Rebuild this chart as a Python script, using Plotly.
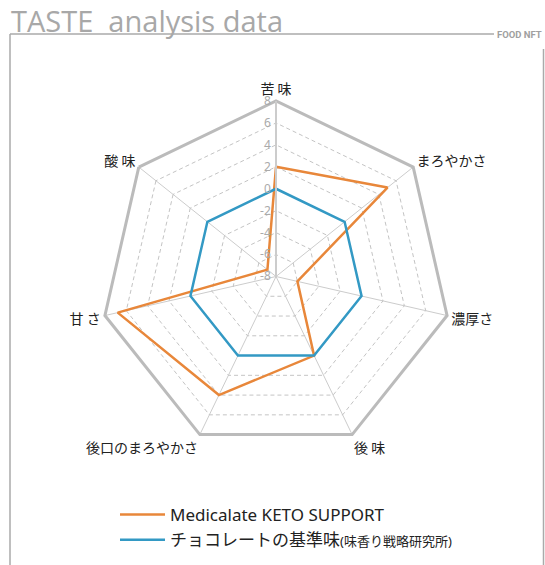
import plotly.graph_objects as go

W, H = 545, 565

categories = ["苦 味", "まろやかさ", "濃厚さ", "後 味", "後口のまろやかさ", "甘 さ", "酸 味"]
keto_values = [2, 5, -6, 0, 4, 6.8, -7]
base_values = [0, 0, 0, 0, 0, 0, 0]
series_names = ["Medicalate KETO SUPPORT",
                "<span style='font-size:17px'>チョコレートの基準味</span>"
                "<span style='font-size:13px'>(味香り戦略研究所)</span>"]
radial_ticks = [-8, -6, -4, -2, 0, 2, 4, 6, 8]

ORANGE = "#E8873A"
BLUE = "#3399C4"
GRAY = "#BBBBBB"

fig = go.Figure()
for name, vals, col in [(series_names[0], keto_values, ORANGE),
                        (series_names[1], base_values, BLUE)]:
    fig.add_trace(go.Scatterpolar(
        r=vals + vals[:1], theta=categories + categories[:1],
        mode="lines", name=name, line=dict(color=col, width=2.5)))

cx, cy, R = 276.0, 276.5, 175.5
fig.update_layout(
    width=W, height=H,
    margin=dict(l=0, r=0, t=0, b=0),
    paper_bgcolor="white",
    font=dict(family="Noto Sans CJK JP", color="#222"),
    polar=dict(
        domain=dict(x=[(cx - R) / W, (cx + R) / W],
                    y=[(H - cy - R) / H, (H - cy + R) / H]),
        gridshape="linear",
        bgcolor="white",
        radialaxis=dict(range=[-8, 8], tickvals=radial_ticks,
                        ticktext=[str(v) for v in radial_ticks], angle=90,
                        showline=True, linecolor="#CCCCCC", linewidth=2,
                        gridcolor="#C4C4C4", griddash="4px,3px", gridwidth=1,
                        showticklabels=True, ticks="", tickangle=90,
                        side="counterclockwise",
                        tickfont=dict(size=12, color="#AAAAAA", family="Noto Sans")),
        angularaxis=dict(rotation=90, direction="clockwise",
                         linecolor=GRAY, linewidth=3, showline=True,
                         gridcolor="#CCCCCC", gridwidth=1,
                         tickfont=dict(size=14, color="#222"), ticks=""),
    ),
    legend=dict(x=115 / W, y=1 - 497 / H, xanchor="left", yanchor="top",
                font=dict(size=17, color="#222",
                          family="Noto Sans, Noto Sans CJK JP"),
                itemwidth=45, tracegroupgap=0, bgcolor="rgba(0,0,0,0)"),
    showlegend=True,
)

# frame
line = dict(color="#AAAAAA", width=1.5)
fig.add_shape(type="line", xref="paper", yref="paper",
              x0=10 / W, x1=494 / W, y0=1 - 34 / H, y1=1 - 34 / H, line=line)
fig.add_shape(type="line", xref="paper", yref="paper",
              x0=10 / W, x1=10 / W, y0=1 - 34 / H, y1=0, line=line)
fig.add_shape(type="line", xref="paper", yref="paper",
              x0=543.5 / W, x1=543.5 / W, y0=1 - 49 / H, y1=0, line=line)

fig.add_annotation(text="TASTE  analysis data", xref="paper", yref="paper",
                   x=9 / W, y=1 - 42 / H, xanchor="left", yanchor="bottom",
                   showarrow=False,
                   font=dict(family="Open Sans", size=29, color="#A8A8A8"))
fig.add_annotation(text="<b>FOOD NFT</b>", xref="paper", yref="paper",
                   x=495 / W, y=1 - 34 / H, xanchor="left", yanchor="middle",
                   showarrow=False,
                   font=dict(family="Roboto", size=9.5, color="#A0A0A0"))

fig.write_html("out.html", config={"displayModeBar": False},
               post_script="document.body.style.margin='0';")
